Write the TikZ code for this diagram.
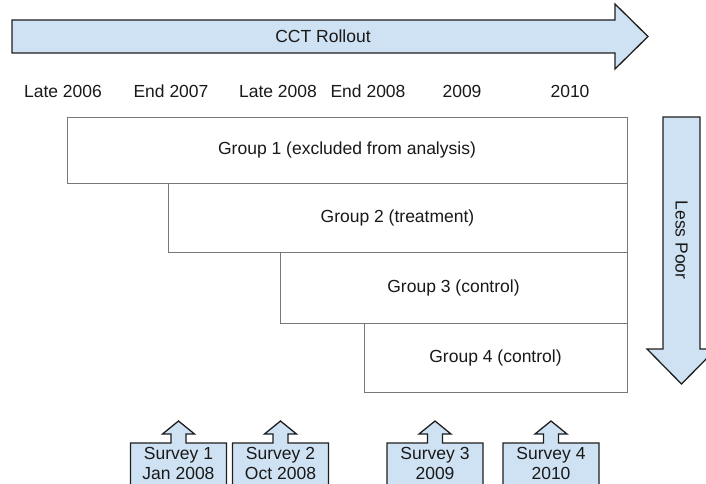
\documentclass[tikz,border=0pt]{standalone}
\usepackage{fontspec}
\setmainfont{Liberation Sans}
\definecolor{arrowfill}{RGB}{207,226,243}
\definecolor{arrowline}{RGB}{30,30,30}
\definecolor{boxline}{RGB}{120,120,120}
\definecolor{txt}{RGB}{25,25,25}
\tikzset{
  bigarrow/.style={fill=arrowfill, draw=arrowline, line width=1.3pt, line join=miter},
  groupbox/.style={draw=boxline, line width=0.9pt, fill=white, inner sep=0pt, anchor=north west},
  lbl/.style={font=\fontsize{17.5}{20}\selectfont, text=txt, inner sep=0pt},
  survtext/.style={font=\fontsize{17.5}{21}\selectfont, text=txt, align=center, inner sep=0pt}
}
\begin{document}
\begin{tikzpicture}[x=1pt,y=-1pt]
\useasboundingbox (0,0) rectangle (706,484);
% top arrow
\draw[bigarrow] (12,20) -- (615,20) -- (615,4) -- (648,36.5) -- (615,69) -- (615,53) -- (12,53) -- cycle;
\node[lbl] (cct) at (323,36.5) {CCT Rollout};
% timeline labels
\node[lbl] (t1) at (63,91) {Late 2006};
\node[lbl] (t2) at (171,91) {End 2007};
\node[lbl] (t3) at (278,91) {Late 2008};
\node[lbl] (t4) at (368,91) {End 2008};
\node[lbl] (t5) at (462,91) {2009};
\node[lbl] (t6) at (570,91) {2010};
% group boxes
\draw[groupbox] (67,117) rectangle (627,183);
\node[lbl] (g1) at (347,150) {Group 1 (excluded from analysis)};
\draw[groupbox] (168,183) rectangle (627,252);
\node[lbl] (g2) at (397.5,217.5) {Group 2 (treatment)};
\draw[groupbox] (280,252) rectangle (627,323);
\node[lbl] (g3) at (453.5,287.5) {Group 3 (control)};
\draw[groupbox] (364,323) rectangle (627,392);
\node[lbl] (g4) at (495.5,357.5) {Group 4 (control)};
% down arrow
\draw[bigarrow] (663,117) -- (700,117) -- (700,349) -- (716,349) -- (681.5,384) -- (647,349) -- (663,349) -- cycle;
\node[lbl, rotate=-90] (lp) at (681.5,240) {Less Poor};
% survey callouts
\foreach \c/\n/\a/\b in {178.5/s1/Survey 1/Jan 2008, 280.5/s2/Survey 2/Oct 2008, 435/s3/Survey 3/2009, 551/s4/Survey 4/2010}{
  \draw[bigarrow] (\c-48,492) -- (\c-48,443) -- (\c-7.5,443) -- (\c-7.5,434) -- (\c-16,434) -- (\c,421)
     -- (\c+16,434) -- (\c+7.5,434) -- (\c+7.5,443) -- (\c+48,443) -- (\c+48,492) -- cycle;
  \node[survtext] (\n) at (\c,463.5) {\a\\[-1pt]\b};
}
\end{tikzpicture}
\end{document}
